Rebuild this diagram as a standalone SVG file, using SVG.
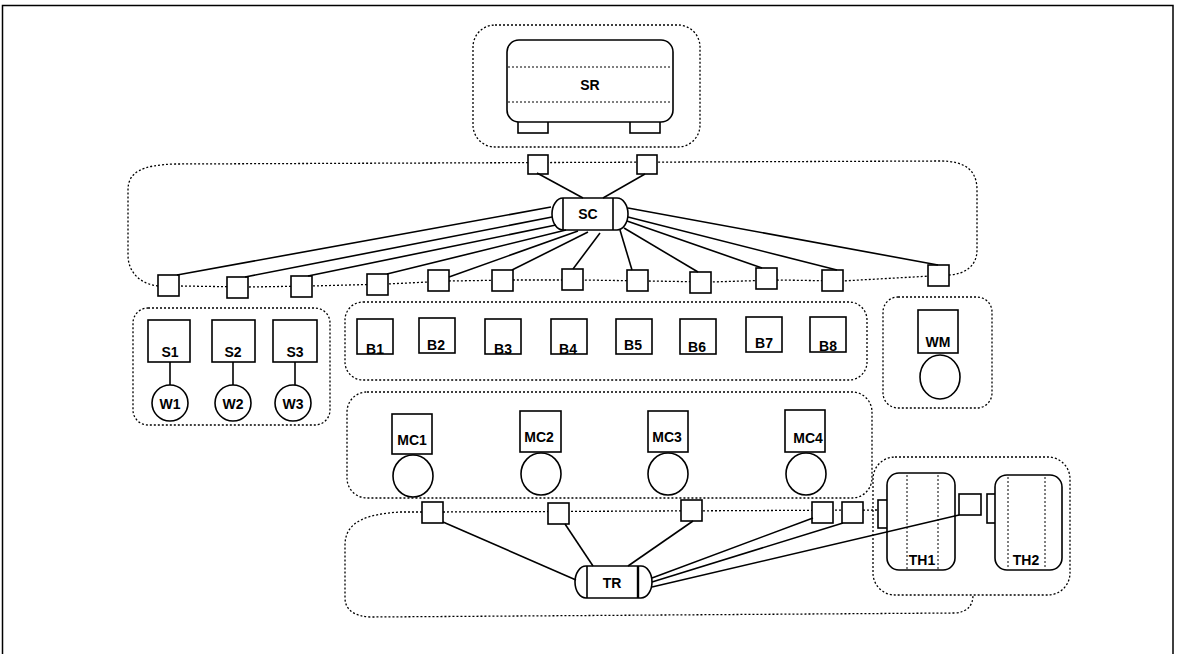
<svg xmlns="http://www.w3.org/2000/svg" width="1180" height="654" viewBox="0 0 1180 654">
<style>
.dot{fill:none;stroke:#000;stroke-width:1.3;stroke-dasharray:2 2}
.dl{fill:none;stroke:#000;stroke-width:1;stroke-dasharray:2 2}
.box{fill:#fff;stroke:#000;stroke-width:1.6}
.ln{fill:none;stroke:#000;stroke-width:1.6}
.lbl{font-family:"Liberation Sans",Arial,sans-serif;font-size:14px;font-weight:bold;text-anchor:middle;fill:#000}
</style>
<rect width="1180" height="654" fill="#fff"/>
<path d="M2.5 654 V5.5 H1173 V654" fill="none" stroke="#000" stroke-width="1.5"/>

<g id="containers">
  <rect class="dot" x="473" y="25" width="227" height="122" rx="22"/>
  <path class="dot" d="M158 286 C140 284,128 272,128 255 L128 190 C128 172,142 165,175 164 L940 161 C965 161,977 170,977 190 L977 250 C977 266,965 274,949 275 L842 281 L777 280 L710 282 L648 281 L583 280 L512 280 L449 281 L387 284 L311 286 L248 287 L180 286 Z"/>
  <rect class="dot" x="133" y="308" width="197" height="117" rx="15"/>
  <rect class="dot" x="345" y="302" width="522" height="78" rx="18"/>
  <rect class="dot" x="883" y="297" width="109" height="111" rx="15"/>
  <rect class="dot" x="347" y="392" width="525" height="106" rx="20"/>
  <rect class="dot" x="873" y="457" width="197" height="138" rx="22"/>
  <path class="dot" d="M430 512 L400 512 C370 514,345 520,345 545 L345 598 C345 610,355 617,372 617 L955 613 C968 612,973 605,973 595"/>
  <path class="dot" d="M443 512 L878 510"/>
</g>

<g id="SR">
  <rect class="box" x="518" y="118" width="30" height="15"/>
  <rect class="box" x="630" y="118" width="30" height="15"/>
  <rect class="box" x="507" y="40" width="166" height="82" rx="12"/>
  <path class="dl" d="M508 67 H672 M508 102 H672"/>
  <text class="lbl" x="590" y="90">SR</text>
</g>
<g id="SC">
  <rect class="box" x="552" y="198" width="76" height="32" rx="11" ry="16"/>
  <path class="ln" d="M563 198 V230 M613 198 V230"/>
  <text class="lbl" x="588" y="219">SC</text>
</g>
<g id="SC-ports">
  <rect class="box" x="528" y="155" width="20" height="19"/>
  <rect class="box" x="637" y="155" width="20" height="19"/>
  <rect class="box" x="158" y="275" width="21" height="21"/>
  <rect class="box" x="227" y="277" width="21" height="21"/>
  <rect class="box" x="291" y="276" width="21" height="21"/>
  <rect class="box" x="367" y="274" width="21" height="21"/>
  <rect class="box" x="428" y="270" width="21" height="21"/>
  <rect class="box" x="492" y="270" width="21" height="21"/>
  <rect class="box" x="562" y="269" width="21" height="21"/>
  <rect class="box" x="627" y="270" width="21" height="21"/>
  <rect class="box" x="690" y="272" width="21" height="21"/>
  <rect class="box" x="756" y="268" width="21" height="21"/>
  <rect class="box" x="822" y="270" width="21" height="21"/>
  <rect class="box" x="928" y="265" width="21" height="21"/>
</g>

<g id="S1"><rect class="box" x="148" y="320" width="42" height="42"/><text class="lbl" x="170" y="357">S1</text></g>
<g id="S2"><rect class="box" x="212" y="320" width="43" height="42"/><text class="lbl" x="233" y="357">S2</text></g>
<g id="S3"><rect class="box" x="273" y="320" width="44" height="42"/><text class="lbl" x="295" y="357">S3</text></g>
<g id="W1"><circle class="box" cx="170" cy="403" r="18"/><text class="lbl" x="170" y="409">W1</text></g>
<g id="W2"><circle class="box" cx="233" cy="403" r="18"/><text class="lbl" x="233" y="409">W2</text></g>
<g id="W3"><circle class="box" cx="293" cy="403" r="18"/><text class="lbl" x="293" y="409">W3</text></g>

<g id="B1"><rect class="box" x="357" y="319" width="36" height="35"/><text class="lbl" x="375" y="354">B1</text></g>
<g id="B2"><rect class="box" x="419" y="318" width="36" height="35"/><text class="lbl" x="436" y="350">B2</text></g>
<g id="B3"><rect class="box" x="485" y="319" width="36" height="35"/><text class="lbl" x="503" y="354">B3</text></g>
<g id="B4"><rect class="box" x="551" y="319" width="36" height="35"/><text class="lbl" x="568" y="354">B4</text></g>
<g id="B5"><rect class="box" x="616" y="319" width="36" height="35"/><text class="lbl" x="633" y="350">B5</text></g>
<g id="B6"><rect class="box" x="680" y="319" width="36" height="35"/><text class="lbl" x="697" y="352">B6</text></g>
<g id="B7"><rect class="box" x="746" y="317" width="36" height="35"/><text class="lbl" x="764" y="348">B7</text></g>
<g id="B8"><rect class="box" x="810" y="317" width="36" height="35"/><text class="lbl" x="828" y="351">B8</text></g>

<g id="WM"><rect class="box" x="918" y="310" width="40" height="43"/><ellipse class="box" cx="940" cy="377" rx="20" ry="22"/><text class="lbl" x="938" y="347">WM</text></g>

<g id="MC1"><rect class="box" x="392" y="414" width="40" height="40"/><ellipse class="box" cx="413" cy="476" rx="20" ry="21"/><text class="lbl" x="412" y="445">MC1</text></g>
<g id="MC2"><rect class="box" x="520" y="411" width="41" height="41"/><ellipse class="box" cx="541" cy="474" rx="20" ry="21"/><text class="lbl" x="539" y="442">MC2</text></g>
<g id="MC3"><rect class="box" x="648" y="411" width="40" height="41"/><ellipse class="box" cx="668" cy="474" rx="20" ry="21"/><text class="lbl" x="667" y="442">MC3</text></g>
<g id="MC4"><rect class="box" x="785" y="410" width="40" height="42"/><ellipse class="box" cx="806" cy="474" rx="20" ry="21"/><text class="lbl" x="808" y="443">MC4</text></g>

<g id="TR">
  <rect class="box" x="575" y="566" width="77" height="32" rx="11" ry="16"/>
  <path class="ln" d="M587 566 V598"/><path d="M638 566 V598" stroke="#000" stroke-width="2.4"/>
  <text class="lbl" x="612" y="588">TR</text>
</g>
<g id="TR-ports">
  <rect class="box" x="422" y="502" width="21" height="21"/>
  <rect class="box" x="548" y="503" width="21" height="21"/>
  <rect class="box" x="681" y="500" width="21" height="21"/>
  <rect class="box" x="812" y="502" width="21" height="21"/>
  <rect class="box" x="842" y="502" width="21" height="21"/>
</g>
<g id="TH1">
  <rect class="box" x="878" y="500" width="10" height="28"/>
  <rect class="box" x="887" y="473" width="68" height="97" rx="12"/>
  <path class="dl" d="M907 475 V569 M938 475 V569"/>
  <text class="lbl" x="922" y="565">TH1</text>
</g>
<g id="TH-port"><rect class="box" x="959" y="494" width="22" height="21"/></g>
<g id="TH2">
  <rect class="box" x="987" y="494" width="9" height="29"/>
  <rect class="box" x="995" y="475" width="67" height="95" rx="12"/>
  <path class="dl" d="M1008 477 V569 M1045 477 V569"/>
  <text class="lbl" x="1026" y="565">TH2</text>
</g>

<g id="connectors" class="ln">
  <path d="M537 173 L583 198"/>
  <path d="M645 174 L603 198"/>
  <path d="M551 207 L177 275"/>
  <path d="M552 217 L245 277"/>
  <path d="M556 225 L308 276"/>
  <path d="M566 230 L387 274"/>
  <path d="M578 231 L449 277"/>
  <path d="M588 232 L512 270"/>
  <path d="M600 233 L573 269"/>
  <path d="M620 230 L632 270"/>
  <path d="M624 228 L698 272"/>
  <path d="M627 221 L762 268"/>
  <path d="M628 217 L837 270"/>
  <path d="M628 208 L938 265"/>
  <path d="M170 362 V385"/>
  <path d="M233 362 V385"/>
  <path d="M295 362 V385"/>
  <path d="M576 580 L443 522"/>
  <path d="M593 566 L565 524"/>
  <path d="M628 566 L693 521"/>
  <path d="M652 578 L813 518"/>
  <path d="M652 582 L843 523"/>
  <path d="M652 587 L959 515"/>
</g>
</svg>
